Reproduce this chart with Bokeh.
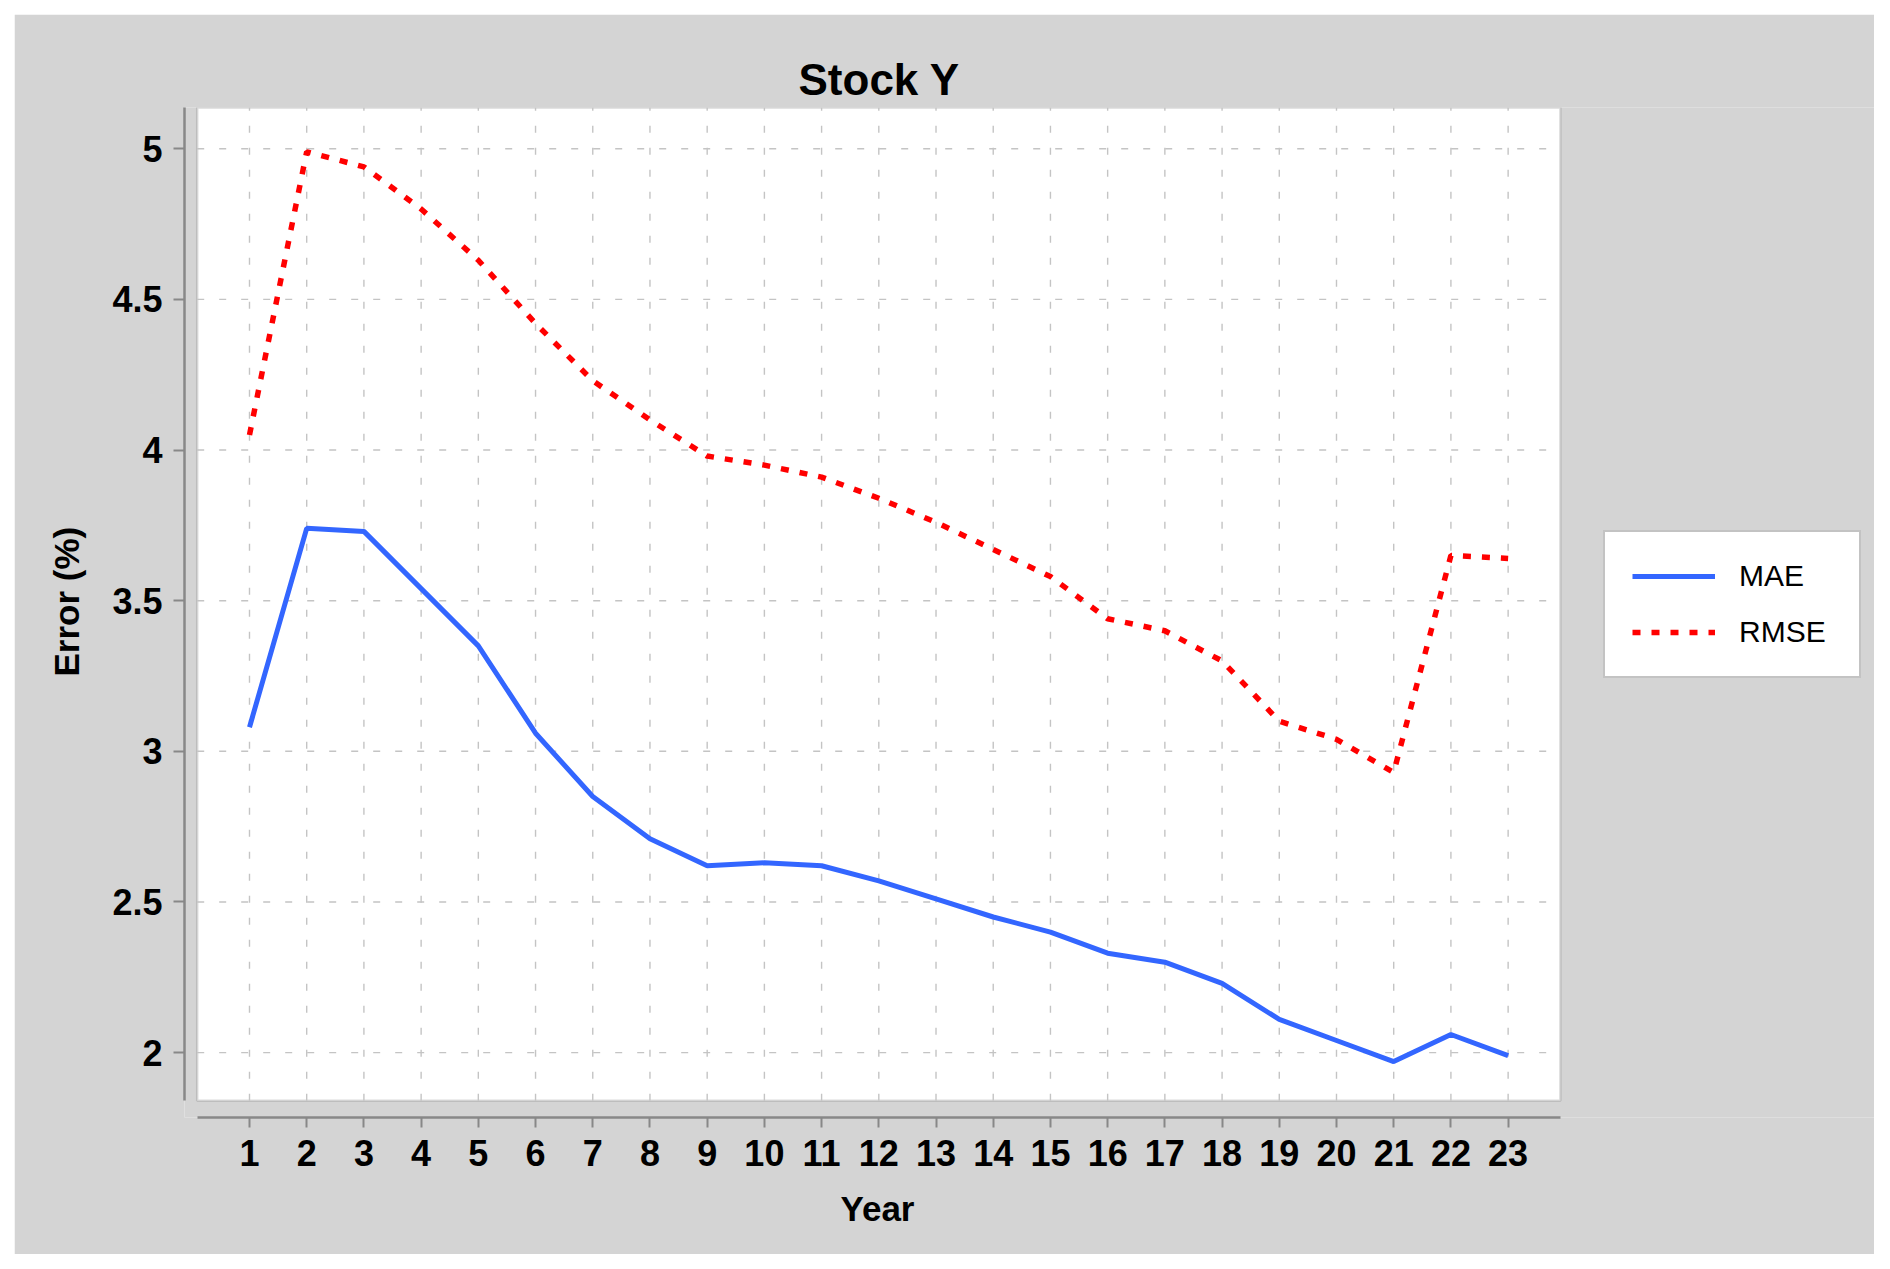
from bokeh.plotting import figure
from bokeh.models import Range1d, FixedTicker, BoxAnnotation, Legend, LegendItem, Title
from bokeh.embed import file_html
from bokeh.resources import INLINE

# ---- data ----
years = list(range(1, 24))
mae = [3.08, 3.74, 3.73, 3.54, 3.35, 3.06, 2.85, 2.71, 2.62, 2.63, 2.62, 2.57,
       2.51, 2.45, 2.40, 2.33, 2.30, 2.23, 2.11, 2.04, 1.97, 2.06, 1.99]
rmse = [4.05, 4.99, 4.94, 4.80, 4.63, 4.42, 4.23, 4.10, 3.98, 3.95, 3.91, 3.84,
        3.76, 3.67, 3.58, 3.44, 3.40, 3.30, 3.10, 3.04, 2.93, 3.65, 3.64]
y_ticks = [2, 2.5, 3, 3.5, 4, 4.5, 5]
y_tick_labels = ["2", "2.5", "3", "3.5", "4", "4.5", "5"]
x_tick_labels = [str(y) for y in years]

# plot-area limits (white box), the offset gap for the axes, and room for the legend
xmin, xmax = 0.086, 23.914
ymin, ymax = 1.840, 5.137
x_gap = 0.222
y_gap = 0.0555
x_legend_room = 5.49

GRAY_BG = "#d4d4d4"
AXIS_GRAY = "#888888"
FONT = "Liberation Sans"

p = figure(width=1860, height=1240, output_backend="svg", toolbar_location=None,
           x_range=Range1d(xmin - x_gap, xmax + x_legend_room),
           y_range=Range1d(ymin - y_gap, ymax),
           min_border_left=170, min_border_right=0, min_border_top=93, min_border_bottom=137)
p.margin = (14, 0, 0, 14)
p.background_fill_color = GRAY_BG
p.border_fill_color = GRAY_BG
p.outline_line_color = None
p.grid.visible = False

# white plot area with border
box = BoxAnnotation(left=xmin, right=xmax, bottom=ymin, top=ymax,
                    fill_color="white", fill_alpha=1.0,
                    line_color=AXIS_GRAY, line_width=2.5, level="underlay")
p.add_layout(box)

# dashed grid lines limited to plot area
grid_kw = dict(line_color="#c4c4c4", line_width=1.4, line_dash="7 15")
p.segment(x0=years, y0=[ymin] * len(years), x1=years, y1=[ymax] * len(years), **grid_kw)
p.segment(x0=[xmin] * len(y_ticks), y0=y_ticks, x1=[xmax] * len(y_ticks), y1=y_ticks, **grid_kw)

# series
r1 = p.line(years, mae, line_color="#3366ff", line_width=5)
r2 = p.line(years, rmse, line_color="#ff0000", line_width=5.5, line_dash="8 11")

# title (centred over the white plot area)
p.title.text = "Stock Y"
p.title.text_font = FONT
p.title.text_font_size = "44px"
p.title.text_font_style = "bold"
p.title.text_color = "black"
p.title.align = "left"
p.title.offset = 614
p.title.standoff = 8

# axes
for ax in (p.xaxis[0], p.yaxis[0]):
    ax.axis_line_color = AXIS_GRAY
    ax.axis_line_width = 2.5
    ax.major_tick_line_color = AXIS_GRAY
    ax.major_tick_line_width = 2
    ax.major_tick_in = 0
    ax.minor_tick_line_color = None
    ax.major_label_text_font = FONT
    ax.major_label_text_font_size = "36px"
    ax.major_label_text_font_style = "bold"
    ax.major_label_text_color = "black"

p.xaxis.ticker = FixedTicker(ticks=years)
p.xaxis.major_label_overrides = {y: lab for y, lab in zip(years, x_tick_labels)}
p.xaxis.bounds = (xmin, xmax)
p.xaxis.major_tick_out = 10
p.xaxis.major_label_standoff = 12

p.yaxis.ticker = FixedTicker(ticks=y_ticks)
p.yaxis.major_label_overrides = {t: lab for t, lab in zip(y_ticks, y_tick_labels)}
p.yaxis.bounds = (ymin, ymax)
p.yaxis.major_tick_out = 11
p.yaxis.major_label_standoff = 11

# axis titles, centred on the white plot area
label_kw = dict(text_font=FONT, text_font_size="35px", text_font_style="bold", text_color="black")
p.add_layout(Title(text="Year", align="left", offset=656, standoff=36, **label_kw), "below")
p.add_layout(Title(text="Error (%)", align="left", offset=441, standoff=48, **label_kw), "left")

legend = Legend(items=[LegendItem(label="MAE", renderers=[r1]),
                       LegendItem(label="RMSE", renderers=[r2])],
                location=(1419, 439), margin=0, padding=27, spacing=22,
                glyph_width=83, glyph_height=34, label_height=34, label_standoff=24,
                label_width=93,
                label_text_font=FONT, label_text_font_size="30px", label_text_color="black",
                border_line_color=AXIS_GRAY, border_line_width=2.5,
                background_fill_color="white", background_fill_alpha=1.0)
p.add_layout(legend)

open("out.html", "w").write(file_html(p, INLINE))
